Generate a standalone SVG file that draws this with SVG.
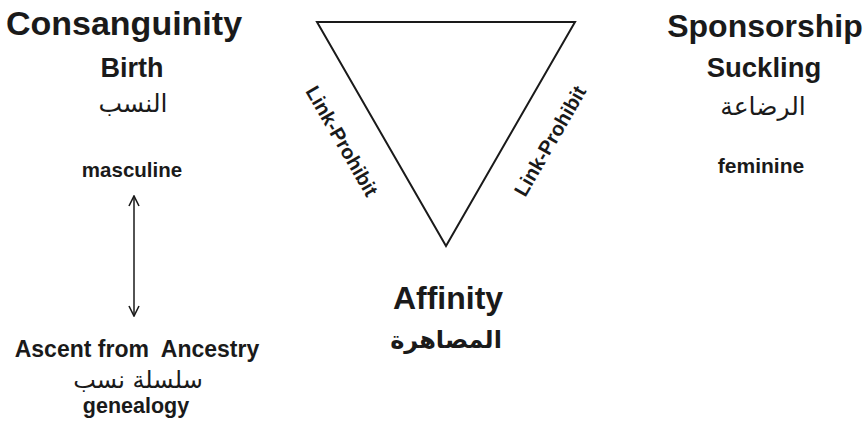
<svg xmlns="http://www.w3.org/2000/svg" width="866" height="433" viewBox="0 0 866 433">
  <style>
    .en { font-family: "Liberation Sans", Arial, sans-serif; font-weight: bold; fill: #1a1a1a; text-anchor: middle; }
    .ar { font-family: "DejaVu Sans", sans-serif; fill: #1a1a1a; text-anchor: middle; }
    .edge { fill: none; stroke: #1a1a1a; stroke-width: 2; }
    .conn { fill: none; stroke: #1a1a1a; stroke-width: 1.5; }
  </style>
  <defs>
    <marker id="arrow" viewBox="0 0 12 12" refX="11" refY="6" markerWidth="12" markerHeight="12" markerUnits="userSpaceOnUse" orient="auto-start-reverse">
      <path d="M1,1 L11,6 L1,11" fill="none" stroke="#1a1a1a" stroke-width="1.6"/>
    </marker>
  </defs>
  <rect width="866" height="433" fill="#ffffff"/>

  <g id="consanguinity">
    <text class="en" x="124" y="35" font-size="34">Consanguinity</text>
    <text class="en" x="132" y="77" font-size="27">Birth</text>
    <text class="ar" x="133" y="112" font-size="25">النسب</text>
    <text class="en" x="132" y="177" font-size="20.5">masculine</text>
  </g>

  <g id="sponsorship">
    <text class="en" x="765" y="37" font-size="32">Sponsorship</text>
    <text class="en" x="764" y="77" font-size="27.5">Suckling</text>
    <text class="ar" x="763" y="115" font-size="25">الرضاعة</text>
    <text class="en" x="761" y="173" font-size="21">feminine</text>
  </g>

  <g id="ancestry">
    <text class="en" x="137" y="357" font-size="23" style="white-space:pre">Ascent from  Ancestry</text>
    <text class="ar" x="138" y="388" font-size="24">سلسلة نسب</text>
    <text class="en" x="136" y="413" font-size="21.5">genealogy</text>
  </g>

  <g id="affinity">
    <text class="en" x="448" y="309" font-size="32">Affinity</text>
    <text class="ar" x="446" y="348" font-size="24" font-weight="bold">المصاهرة</text>
  </g>

  <g id="triangle">
    <path class="edge" d="M317,22 L575,22 L446,246 Z" stroke-linejoin="miter"/>
    <text class="en" font-size="20" transform="translate(342,141) rotate(60)" y="7">Link-Prohibit</text>
    <text class="en" font-size="20" transform="translate(550,141) rotate(-60)" y="7">Link-Prohibit</text>
  </g>

  <g id="connectors">
    <path class="conn" d="M134,196 L134,316" marker-start="url(#arrow)" marker-end="url(#arrow)"/>
  </g>
</svg>
